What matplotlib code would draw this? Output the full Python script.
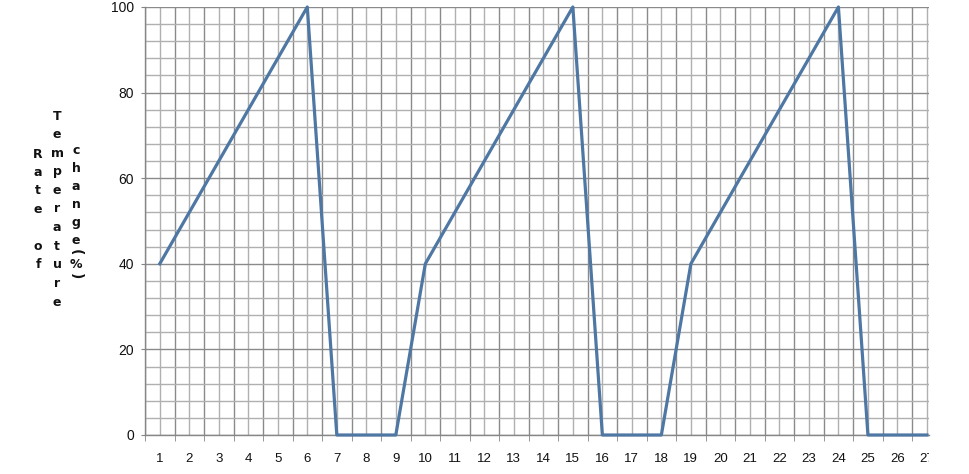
import matplotlib.pyplot as plt
from matplotlib.ticker import MultipleLocator, FixedLocator
from matplotlib.transforms import Bbox, TransformedBbox

# values
days = list(range(1, 28))
rate = [40, 52, 64, 76, 88, 100, 0, 0, 0,
        40, 52, 64, 76, 88, 100, 0, 0, 0,
        40, 52, 64, 76, 88, 100, 0, 0, 0]

W, H = 969, 474
fig = plt.figure(figsize=(W / 100, H / 100), dpi=100)
ax = fig.add_axes([145 / W, 39 / H, (929 - 145) / W, 428 / H])

ax.plot(days, rate, color='#4f77a3', linewidth=2.3, clip_on=False, zorder=3)

ax.set_xlim(0.5, 27.07)
ax.set_ylim(0, 100)

# grid: dark lines between categories / every 20, light ones in between
ax.xaxis.set_major_locator(FixedLocator(days))
ax.xaxis.set_minor_locator(FixedLocator([d + 0.5 for d in range(0, 27)]))
ax.yaxis.set_major_locator(MultipleLocator(20))
ax.yaxis.set_minor_locator(MultipleLocator(4))

ax.grid(which='minor', axis='x', color='#8a8a8a', linewidth=1.0)
ax.grid(which='major', axis='x', color='#b0b0b0', linewidth=1.0)
ax.grid(which='major', axis='y', color='#8a8a8a', linewidth=1.0)
ax.grid(which='minor', axis='y', color='#b0b0b0', linewidth=1.0)
ax.set_axisbelow(True)

for s in ['top', 'right']:
    ax.spines[s].set_visible(False)
for s in ['left', 'bottom']:
    ax.spines[s].set_color('#868686')
    ax.spines[s].set_linewidth(1.0)

ax.tick_params(axis='x', which='major', length=0, pad=13, labelsize=9.5, labelcolor='#111111')
ax.tick_params(axis='x', which='minor', length=4, color='#868686', direction='out')
ax.tick_params(axis='y', which='major', length=3, color='#868686', pad=5, labelsize=10, labelcolor='#111111')
ax.tick_params(axis='y', which='minor', length=0)

# the picture is cut just right of the plot: clip the last label there
cut = TransformedBbox(Bbox([[0, 0], [929 / W, 1]]), fig.transFigure)
for lab in ax.get_xticklabels() + ax.get_yticklabels():
    lab.set_family('Liberation Sans')
    lab.set_clip_on(True)
    lab.set_clip_box(cut)

# stacked letters of the y title
def column(text, x, y0, step):
    y = y0
    for ch in text:
        if ch != ' ':
            fig.text(x / W, 1 - y / H, ch, ha='center', va='center',
                     fontsize=9, fontweight='bold', family='DejaVu Sans', color='#111111')
        y += step

column('Rate of', 38, 154, 18.4)
column('Temperature', 57, 116, 18.6)
column('change', 76, 150, 18.2)
fig.text(76 / W, 1 - 252 / H, '(', rotation=-90, ha='center', va='center',
         fontsize=10, fontweight='bold', color='#111111')
fig.text(76 / W, 1 - 264 / H, '%', ha='center', va='center',
         fontsize=9, fontweight='bold', color='#111111')
fig.text(76 / W, 1 - 276 / H, ')', rotation=-90, ha='center', va='center',
         fontsize=10, fontweight='bold', color='#111111')

fig.savefig('out.png', dpi=100)
